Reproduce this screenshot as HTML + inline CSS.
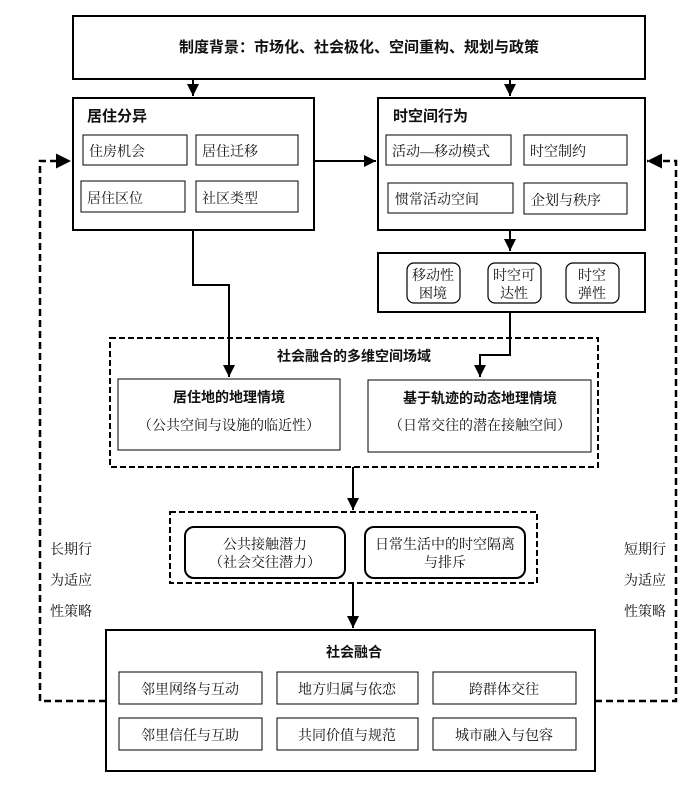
<!DOCTYPE html>
<html><head><meta charset="utf-8"><style>
html,body{margin:0;padding:0;background:#fff;}
svg text{font-family:"Liberation Serif","Noto Serif CJK SC","Noto Sans CJK SC",serif;fill:#111;}
.b{font-family:"Liberation Sans","Noto Sans CJK SC",sans-serif;font-weight:bold;}
</style></head><body>
<svg width="700" height="792" viewBox="0 0 700 792" xmlns="http://www.w3.org/2000/svg">
<defs><marker id="a" viewBox="0 0 10 10" refX="10" refY="5" markerWidth="6" markerHeight="6" orient="auto"><path d="M0,0L10,5L0,10z" fill="#000"/></marker></defs>
<g fill="none" stroke="#000">
<rect x="73" y="16" width="572" height="63" stroke-width="2"/>
<rect x="73" y="98" width="241" height="132" stroke-width="2"/>
<rect x="378" y="98" width="267" height="132" stroke-width="2"/>
<rect x="83" y="135" width="104" height="30" stroke-width="1"/>
<rect x="196" y="135" width="102" height="30"/>
<rect x="81" y="181" width="104" height="31"/>
<rect x="196" y="181" width="102" height="31"/>
<rect x="386" y="135" width="125" height="30"/>
<rect x="524" y="135" width="103" height="30"/>
<rect x="388" y="183" width="125" height="30"/>
<rect x="524" y="183" width="103" height="31"/>
<rect x="378" y="253" width="267" height="59" stroke-width="2"/>
<rect x="407" y="263" width="53" height="40" rx="7" stroke-width="1.2"/>
<rect x="488" y="263" width="53" height="40" rx="7" stroke-width="1.2"/>
<rect x="566" y="263" width="53" height="40" rx="7" stroke-width="1.2"/>
<rect x="110" y="338" width="488" height="129" stroke-width="2" stroke-dasharray="6,3"/>
<rect x="118" y="379" width="222" height="71"/>
<rect x="368" y="380" width="223" height="72"/>
<rect x="170" y="512" width="367" height="71" stroke-width="2" stroke-dasharray="6,3"/>
<rect x="185" y="527" width="160" height="51" rx="9" stroke-width="2"/>
<rect x="365" y="527" width="160" height="51" rx="9" stroke-width="2"/>
<rect x="106" y="630" width="489" height="141" stroke-width="2"/>
<rect x="119" y="672" width="143" height="32"/>
<rect x="277" y="672" width="141" height="32"/>
<rect x="433" y="672" width="143" height="32"/>
<rect x="119" y="718" width="143" height="32"/>
<rect x="277" y="718" width="141" height="32"/>
<rect x="433" y="718" width="143" height="32"/>
<g stroke-width="2">
<path d="M193,80V96" marker-end="url(#a)"/>
<path d="M510,80V96" marker-end="url(#a)"/>
<path d="M314,161H376" marker-end="url(#a)"/>
<path d="M510,230V251" marker-end="url(#a)"/>
<path d="M193,230V285H229V377" marker-end="url(#a)"/>
<path d="M510,312V355H480V377" marker-end="url(#a)"/>
<path d="M353,467V510" marker-end="url(#a)"/>
<path d="M353,583V628" marker-end="url(#a)"/>
<path d="M106,701H40V161H71" stroke-width="2.5" stroke-dasharray="7,4" marker-end="url(#a)"/>
<path d="M595,701H676V161H647" stroke-width="2.5" stroke-dasharray="7,4" marker-end="url(#a)"/>
</g>
</g>
<g font-size="14">
<text x="359" y="52" text-anchor="middle" class="b" font-size="15">制度背景：市场化、社会极化、空间重构、规划与政策</text>
<text x="87" y="121" class="b" font-size="15">居住分异</text>
<text x="393" y="121" class="b" font-size="15">时空间行为</text>
<text x="89" y="156">住房机会</text>
<text x="202" y="156">居住迁移</text>
<text x="87" y="203">居住区位</text>
<text x="202" y="203">社区类型</text>
<text x="392" y="156">活动—移动模式</text>
<text x="530" y="156">时空制约</text>
<text x="395" y="204">惯常活动空间</text>
<text x="531" y="205">企划与秩序</text>
<text x="433" y="280" text-anchor="middle">移动性</text>
<text x="433" y="298" text-anchor="middle">困境</text>
<text x="514" y="280" text-anchor="middle">时空可</text>
<text x="514" y="298" text-anchor="middle">达性</text>
<text x="592" y="280" text-anchor="middle">时空</text>
<text x="592" y="298" text-anchor="middle">弹性</text>
<text x="354" y="361" text-anchor="middle" class="b">社会融合的多维空间场域</text>
<text x="229" y="402" text-anchor="middle" class="b">居住地的地理情境</text>
<text x="229" y="430" text-anchor="middle">（公共空间与设施的临近性）</text>
<text x="480" y="403" text-anchor="middle" class="b">基于轨迹的动态地理情境</text>
<text x="480" y="430" text-anchor="middle">（日常交往的潜在接触空间）</text>
<text x="265" y="549" text-anchor="middle">公共接触潜力</text>
<text x="265" y="567" text-anchor="middle">（社会交往潜力）</text>
<text x="445" y="549" text-anchor="middle">日常生活中的时空隔离</text>
<text x="445" y="567" text-anchor="middle">与排斥</text>
<text x="354" y="657" text-anchor="middle" class="b">社会融合</text>
<text x="190" y="694" text-anchor="middle">邻里网络与互动</text>
<text x="347" y="694" text-anchor="middle">地方归属与依恋</text>
<text x="504" y="694" text-anchor="middle">跨群体交往</text>
<text x="190" y="740" text-anchor="middle">邻里信任与互助</text>
<text x="347" y="740" text-anchor="middle">共同价值与规范</text>
<text x="504" y="740" text-anchor="middle">城市融入与包容</text>
<text x="50" y="554">长期行</text>
<text x="50" y="585">为适应</text>
<text x="50" y="616">性策略</text>
<text x="624" y="554">短期行</text>
<text x="624" y="585">为适应</text>
<text x="624" y="616">性策略</text>
</g>
</svg>
</body></html>
